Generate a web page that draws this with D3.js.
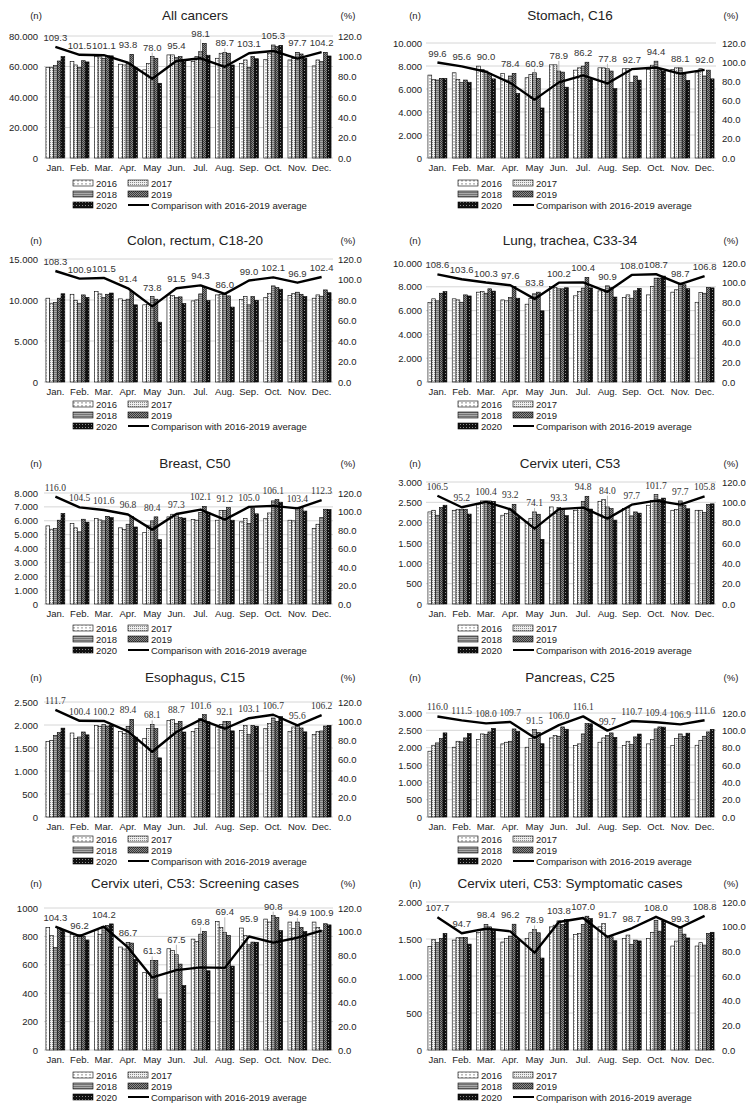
<!DOCTYPE html>
<html lang="en">
<head>
<meta charset="utf-8">
<title>Monthly cancer cases 2016-2020</title>
<style>
  body { margin: 0; background: #fff; }
  svg { display: block; font-family: Arial, "Liberation Sans", sans-serif; }
</style>
</head>
<body>
<svg id="chart" width="755" height="1111"></svg>
<script src="https://cdn.jsdelivr.net/npm/d3@7"></script>
<script>
// ---- data ----
const months = ["Jan.", "Feb.", "Mar.", "Apr.", "May", "Jun.", "Jul.", "Aug.", "Sep.", "Oct.", "Nov.", "Dec."];
const years = ["2016", "2017", "2018", "2019", "2020"];
const lineName = "Comparison with 2016-2019 average";
const pctTicks = [0, 20, 40, 60, 80, 100, 120];

// rows = 2016..2020, columns = Jan..Dec
const allCancersN = [
  [59500, 63400, 66500, 61500, 57800, 67600, 63200, 65400, 62100, 64700, 64300, 60400],
  [59500, 61000, 66300, 61000, 62100, 67600, 66500, 68700, 64300, 68700, 65400, 64300],
  [60600, 59500, 65400, 62000, 66500, 65800, 69800, 69300, 59500, 74100, 69300, 63200],
  [63600, 63800, 67000, 68000, 65400, 66500, 75200, 68700, 66500, 73000, 68200, 69300],
  [66500, 63000, 67000, 59200, 49000, 63800, 67400, 61000, 65100, 73900, 65400, 66900]
];
const allCancersPct = [109.3, 101.5, 101.1, 93.8, 78.0, 95.4, 98.1, 89.7, 103.1, 105.3, 97.7, 104.2];
const allCancersTicks = [0, 20000, 40000, 60000, 80000];
const allCancersTickLabels = ["0", "20.000", "40.000", "60.000", "80.000"];

const stomachN = [
  [7210, 7410, 7990, 7360, 6980, 8100, 7640, 7840, 7760, 7700, 7700, 7410],
  [6840, 6840, 7700, 6780, 7270, 8100, 7840, 7840, 7760, 8070, 7840, 7760],
  [6780, 6550, 7560, 7130, 7410, 7560, 7990, 7760, 6550, 8420, 7840, 7130],
  [6930, 6780, 7360, 7360, 6930, 7470, 8330, 7560, 7130, 7790, 7270, 7640],
  [6910, 6590, 6880, 5610, 4350, 6160, 6850, 6030, 6770, 7550, 6750, 6880]
];
const stomachPct = [99.6, 95.6, 90.0, 78.4, 60.9, 78.9, 86.2, 77.8, 92.7, 94.4, 88.1, 92.0];
const stomachTicks = [0, 2000, 4000, 6000, 8000, 10000];
const stomachTickLabels = ["0", "2.000", "4.000", "6.000", "8.000", "10.000"];

const colonN = [
  [10220, 10700, 11030, 10140, 9410, 10620, 9890, 10620, 10050, 10300, 10540, 10220],
  [9610, 9970, 10740, 9930, 9490, 10540, 10010, 10700, 10420, 10820, 10780, 10620],
  [9690, 9610, 10300, 10100, 10420, 10300, 10740, 10700, 9410, 11720, 10950, 10460],
  [10220, 10620, 10700, 11030, 10100, 10380, 11510, 10500, 10420, 11510, 10700, 11230],
  [10760, 10320, 10850, 9410, 7300, 9570, 9940, 9140, 9970, 11320, 10410, 10890]
];
const colonPct = [108.3, 100.9, 101.5, 91.4, 73.8, 91.5, 94.3, 86.0, 99.0, 102.1, 96.9, 102.4];
const colonTicks = [0, 5000, 10000, 15000];
const colonTickLabels = ["0", "5.000", "10.000", "15.000"];

const lungN = [
  [6680, 6990, 7550, 6900, 6540, 8030, 7240, 7660, 7100, 7320, 7550, 6700],
  [6990, 6900, 7610, 6820, 7040, 7940, 7610, 7750, 7320, 8030, 7750, 7520],
  [6820, 6700, 7460, 7100, 7410, 7830, 7890, 8080, 7040, 8730, 8310, 7460],
  [7460, 7320, 7830, 8030, 7550, 7830, 8790, 7940, 7660, 8730, 8170, 7940],
  [7590, 7230, 7640, 7040, 5980, 7920, 7910, 7140, 7860, 8900, 7840, 7910]
];
const lungPct = [108.6, 103.6, 100.3, 97.6, 83.8, 100.2, 100.4, 90.9, 108.0, 108.7, 98.7, 106.8];
const lungTicks = [0, 2000, 4000, 6000, 8000, 10000];
const lungTickLabels = ["0", "2.000", "4.000", "6.000", "8.000", "10.000"];

const breastN = [
  [5630, 5800, 6160, 5490, 5150, 6280, 6080, 6040, 5920, 6160, 6040, 5440],
  [5390, 5490, 6060, 5370, 5680, 6470, 6040, 6750, 6160, 6560, 5990, 5750],
  [5440, 5200, 5990, 5750, 5990, 6470, 6590, 6750, 5800, 7430, 6950, 6230],
  [6040, 6110, 6320, 6320, 6280, 6230, 7040, 6950, 6870, 7520, 6950, 6830],
  [6520, 5900, 6230, 5550, 4640, 6190, 6570, 6040, 6500, 7340, 6700, 6810]
];
const breastPct = [116.0, 104.5, 101.6, 96.8, 80.4, 97.3, 102.1, 91.2, 105.0, 106.1, 103.4, 112.3];
const breastTicks = [0, 1000, 2000, 3000, 4000, 5000, 6000, 7000, 8000];
const breastTickLabels = ["0", "1.000", "2.000", "3.000", "4.000", "5.000", "6.000", "7.000", "8.000"];

const cervixN = [
  [2264, 2305, 2452, 2183, 2019, 2387, 2305, 2526, 2346, 2428, 2305, 2305],
  [2305, 2330, 2534, 2224, 2101, 2224, 2371, 2567, 2371, 2550, 2322, 2305],
  [2183, 2330, 2534, 2330, 2264, 2371, 2526, 2387, 2166, 2690, 2534, 2248],
  [2371, 2330, 2534, 2452, 2207, 2330, 2649, 2346, 2264, 2575, 2428, 2452],
  [2429, 2212, 2524, 2141, 1591, 2172, 2335, 2063, 2234, 2604, 2342, 2463]
];
const cervixPct = [106.5, 95.2, 100.4, 93.2, 74.1, 93.3, 94.8, 84.0, 97.7, 101.7, 97.7, 105.8];
const cervixTicks = [0, 500, 1000, 1500, 2000, 2500, 3000];
const cervixTickLabels = ["0", "500", "1.000", "1.500", "2.000", "2.500", "3.000"];

const esophagusN = [
  [1645, 1826, 1993, 1862, 1703, 2101, 1862, 1957, 1884, 1920, 1862, 1790],
  [1667, 1703, 1971, 1812, 1920, 2123, 1920, 2014, 1993, 2029, 1957, 1862],
  [1775, 1739, 2007, 1971, 2014, 2029, 2138, 2080, 1790, 2152, 1993, 1870],
  [1833, 1848, 1978, 2123, 1920, 2080, 2225, 2080, 1993, 2080, 1935, 1978],
  [1932, 1786, 1991, 1736, 1286, 1848, 2069, 1872, 1974, 2182, 1851, 1991]
];
const esophagusPct = [111.7, 100.4, 100.2, 89.4, 68.1, 88.7, 101.6, 92.1, 103.1, 106.7, 95.6, 106.2];
const esophagusTicks = [0, 500, 1000, 1500, 2000, 2500];
const esophagusTickLabels = ["0", "500", "1.000", "1.500", "2.000", "2.500"];

const pancreasN = [
  [1898, 2013, 2233, 2109, 2013, 2281, 2061, 2157, 2061, 2109, 2061, 2070],
  [2070, 2185, 2396, 2157, 2262, 2348, 2109, 2281, 2185, 2233, 2262, 2204],
  [2137, 2166, 2377, 2185, 2521, 2329, 2396, 2348, 2090, 2540, 2396, 2329],
  [2262, 2281, 2454, 2540, 2444, 2598, 2693, 2425, 2310, 2598, 2329, 2454],
  [2426, 2410, 2554, 2466, 2114, 2532, 2688, 2296, 2393, 2593, 2418, 2527]
];
const pancreasPct = [116.0, 111.5, 108.0, 109.7, 91.5, 106.0, 116.1, 99.7, 110.7, 109.4, 106.9, 111.6];
const pancreasTicks = [0, 500, 1000, 1500, 2000, 2500, 3000];
const pancreasTickLabels = ["0", "500", "1.000", "1.500", "2.000", "2.500", "3.000"];

const screeningN = [
  [864, 812, 847, 725, 546, 713, 781, 906, 859, 922, 901, 901],
  [805, 800, 812, 711, 541, 701, 765, 864, 805, 901, 854, 864],
  [722, 812, 871, 758, 631, 671, 816, 828, 741, 946, 901, 840],
  [859, 800, 878, 753, 631, 605, 835, 807, 760, 934, 864, 889],
  [847, 775, 888, 639, 360, 454, 558, 591, 759, 841, 835, 881]
];
const screeningPct = [104.3, 96.2, 104.2, 86.7, 61.3, 67.5, 69.8, 69.4, 95.9, 90.8, 94.9, 100.9];
const screeningTicks = [0, 200, 400, 600, 800, 1000];
const screeningTickLabels = ["0", "200", "400", "600", "800", "1000"];

const symptomaticN = [
  [1396, 1485, 1588, 1459, 1508, 1664, 1562, 1664, 1508, 1508, 1405, 1405],
  [1494, 1517, 1620, 1508, 1584, 1687, 1575, 1709, 1553, 1588, 1472, 1450],
  [1450, 1521, 1696, 1539, 1629, 1745, 1696, 1539, 1427, 1754, 1655, 1418],
  [1508, 1521, 1664, 1700, 1584, 1696, 1808, 1530, 1485, 1606, 1566, 1575],
  [1575, 1431, 1616, 1492, 1243, 1762, 1776, 1477, 1474, 1743, 1514, 1591]
];
const symptomaticPct = [107.7, 94.7, 98.4, 96.2, 78.9, 103.8, 107.0, 91.7, 98.7, 108.0, 99.3, 108.8];
const symptomaticTicks = [0, 500, 1000, 1500, 2000];
const symptomaticTickLabels = ["0", "500", "1.000", "1.500", "2.000"];

// ---- layout ----
const cols = [
  {x0: 44, x1: 333, leftLab: 38, rightLab: 338, nX: 36, pctX: 348, titleX: 195, legX: 73},
  {x0: 426, x1: 716, leftLab: 422, rightLab: 722, nX: 415, pctX: 731, titleX: 570, legX: 458}
];
const rows = [
  {title: 20, bottom: 158, leg: 183},
  {title: 245, bottom: 382, leg: 404},
  {title: 468, bottom: 604, leg: 628},
  {title: 682, bottom: 817, leg: 839},
  {title: 888, bottom: 1050, leg: 1075}
];

const panels = [
  {title: "All cancers", n: allCancersN, pct: allCancersPct, ticks: allCancersTicks, labels: allCancersTickLabels, col: 0, row: 0, top: 36, serif: false},
  {title: "Stomach, C16", n: stomachN, pct: stomachPct, ticks: stomachTicks, labels: stomachTickLabels, col: 1, row: 0, top: 43, serif: false},
  {title: "Colon, rectum, C18-20", n: colonN, pct: colonPct, ticks: colonTicks, labels: colonTickLabels, col: 0, row: 1, top: 259, serif: false},
  {title: "Lung, trachea, C33-34", n: lungN, pct: lungPct, ticks: lungTicks, labels: lungTickLabels, col: 1, row: 1, top: 263, serif: false},
  {title: "Breast, C50", n: breastN, pct: breastPct, ticks: breastTicks, labels: breastTickLabels, col: 0, row: 2, top: 493, serif: true},
  {title: "Cervix uteri, C53", n: cervixN, pct: cervixPct, ticks: cervixTicks, labels: cervixTickLabels, col: 1, row: 2, top: 482, serif: true},
  {title: "Esophagus, C15", n: esophagusN, pct: esophagusPct, ticks: esophagusTicks, labels: esophagusTickLabels, col: 0, row: 3, top: 702, serif: true},
  {title: "Pancreas, C25", n: pancreasN, pct: pancreasPct, ticks: pancreasTicks, labels: pancreasTickLabels, col: 1, row: 3, top: 713, serif: true},
  {title: "Cervix uteri, C53: Screening cases", n: screeningN, pct: screeningPct, ticks: screeningTicks, labels: screeningTickLabels, col: 0, row: 4, top: 908, serif: false},
  {title: "Cervix uteri, C53: Symptomatic cases", n: symptomaticN, pct: symptomaticPct, ticks: symptomaticTicks, labels: symptomaticTickLabels, col: 1, row: 4, top: 902, serif: false}
];

const svg = d3.select("#chart");
const txt = "#222";

// hatch patterns for the five years
const defs = svg.append("defs");
function pat(id, w, h, bg) {
  const p = defs.append("pattern").attr("id", id).attr("patternUnits", "userSpaceOnUse")
    .attr("width", w).attr("height", h);
  p.append("rect").attr("width", w).attr("height", h).attr("fill", bg);
  return p;
}
let p = pat("y2016", 4, 3, "#fff");
p.append("line").attr("x1", 2).attr("x2", 2).attr("y1", 0).attr("y2", 1.6).attr("stroke", "#555").attr("stroke-width", 0.8);
p = pat("y2017", 2, 2, "#eee");
p.append("rect").attr("width", 1).attr("height", 1).attr("fill", "#8a8a8a");
p = pat("y2018", 3, 2, "#aaa");
p.append("line").attr("x1", 0).attr("x2", 3).attr("y1", 0.5).attr("y2", 0.5).attr("stroke", "#666").attr("stroke-width", 0.8);
p = pat("y2019", 2, 2, "#8c8c8c");
p.append("rect").attr("width", 1).attr("height", 1).attr("fill", "#3a3a3a");
p.append("rect").attr("x", 1).attr("y", 1).attr("width", 1).attr("height", 1).attr("fill", "#3a3a3a");
p = pat("y2020", 3, 3, "#111");
p.append("rect").attr("x", 1).attr("y", 1).attr("width", 0.9).attr("height", 0.9).attr("fill", "#aaa");

panels.forEach(pn => {
  const c = cols[pn.col], r = rows[pn.row];
  const g = svg.append("g");
  const maxN = pn.ticks[pn.ticks.length - 1];

  const x = d3.scaleBand().domain(months).range([c.x0, c.x1]).paddingInner(0.22).paddingOuter(0.08);
  const xs = d3.scaleBand().domain(years).range([0, x.bandwidth()]);
  const yN = d3.scaleLinear().domain([0, maxN]).range([r.bottom, pn.top]);
  const yP = d3.scaleLinear().domain([0, 120]).range([r.bottom, pn.top]);

  // title and unit labels
  g.append("text").attr("x", c.titleX).attr("y", r.title).attr("text-anchor", "middle")
    .attr("font-size", 13.5).attr("fill", txt).text(pn.title);
  g.append("text").attr("x", c.nX).attr("y", r.title - 1).attr("text-anchor", "middle")
    .attr("font-size", 9.5).attr("fill", txt).text("(n)");
  g.append("text").attr("x", c.pctX).attr("y", r.title - 1).attr("text-anchor", "middle")
    .attr("font-size", 9.5).attr("fill", txt).text("(%)");

  // gridlines
  g.selectAll(".grid").data(pn.ticks).join("line")
    .attr("x1", c.x0).attr("x2", c.x1)
    .attr("y1", d => yN(d)).attr("y2", d => yN(d))
    .attr("stroke", "#d6d6d6").attr("stroke-width", 1);

  // axes
  const left = g.append("g").attr("transform", `translate(${c.leftLab},0)`)
    .call(d3.axisLeft(yN).tickValues(pn.ticks).tickFormat((d, i) => pn.labels[i]).tickSize(0).tickPadding(0));
  const right = g.append("g").attr("transform", `translate(${c.rightLab},0)`)
    .call(d3.axisRight(yP).tickValues(pctTicks).tickFormat(d3.format(".1f")).tickSize(0).tickPadding(0));
  const bottom = g.append("g").attr("transform", `translate(0,${r.bottom})`)
    .call(d3.axisBottom(x).tickSize(0).tickPadding(6));
  [left, right, bottom].forEach(a => {
    a.select(".domain").remove();
    a.selectAll("text").attr("font-size", 9.5).attr("fill", txt)
      .attr("font-family", "Arial, 'Liberation Sans', sans-serif");
  });

  // bars
  years.forEach((yr, k) => {
    g.append("g").selectAll("rect").data(pn.n[k]).join("rect")
      .attr("x", (d, i) => x(months[i]) + xs(yr))
      .attr("y", d => yN(d))
      .attr("width", xs.bandwidth())
      .attr("height", d => r.bottom - yN(d))
      .attr("fill", `url(#y${yr})`)
      .attr("stroke", "#000").attr("stroke-width", 0.6);
  });

  // comparison line
  const cx = i => x(months[i]) + x.bandwidth() / 2;
  g.append("path").datum(pn.pct)
    .attr("d", d3.line().x((d, i) => cx(i)).y(d => yP(d)))
    .attr("fill", "none").attr("stroke", "#000").attr("stroke-width", 2.4).attr("stroke-linejoin", "round");

  // data labels, above the line point or the tallest bar
  pn.pct.forEach((v, i) => {
    const yl = yP(v);
    const yb = yN(d3.max(pn.n, row => row[i]));
    const ly = Math.min(yl, yb) - 6;
    if (yl - ly > 20) {
      g.append("line").attr("x1", cx(i)).attr("x2", cx(i)).attr("y1", ly + 2).attr("y2", yl - 2)
        .attr("stroke", "#999").attr("stroke-width", 0.7);
    }
    g.append("text").attr("x", cx(i)).attr("y", ly).attr("text-anchor", "middle")
      .attr("font-size", pn.serif ? 9.5 : 9.5)
      .attr("font-family", pn.serif ? "'Times New Roman', 'Liberation Serif', serif" : null)
      .attr("fill", "#333").text(d3.format(".1f")(v));
  });

  // legend
  const lg = g.append("g").attr("font-size", 9.5).attr("fill", txt);
  const items = years.map((yr, k) => ({kind: "bar", yr, col: k % 2, row: Math.floor(k / 2), label: yr}));
  items.push({kind: "line", col: 1, row: 2, label: lineName});
  items.forEach(it => {
    const lx = c.legX + it.col * 55;
    const ly = r.leg + it.row * 11;
    if (it.kind === "bar") {
      lg.append("rect").attr("x", lx).attr("y", ly - 3).attr("width", 20).attr("height", 6)
        .attr("fill", `url(#y${it.yr})`).attr("stroke", "#000").attr("stroke-width", 0.6);
    } else {
      lg.append("line").attr("x1", lx).attr("x2", lx + 21).attr("y1", ly).attr("y2", ly)
        .attr("stroke", "#000").attr("stroke-width", 2);
    }
    lg.append("text").attr("x", lx + 23).attr("y", ly + 3.5).text(it.label);
  });
});
</script>
</body>
</html>
